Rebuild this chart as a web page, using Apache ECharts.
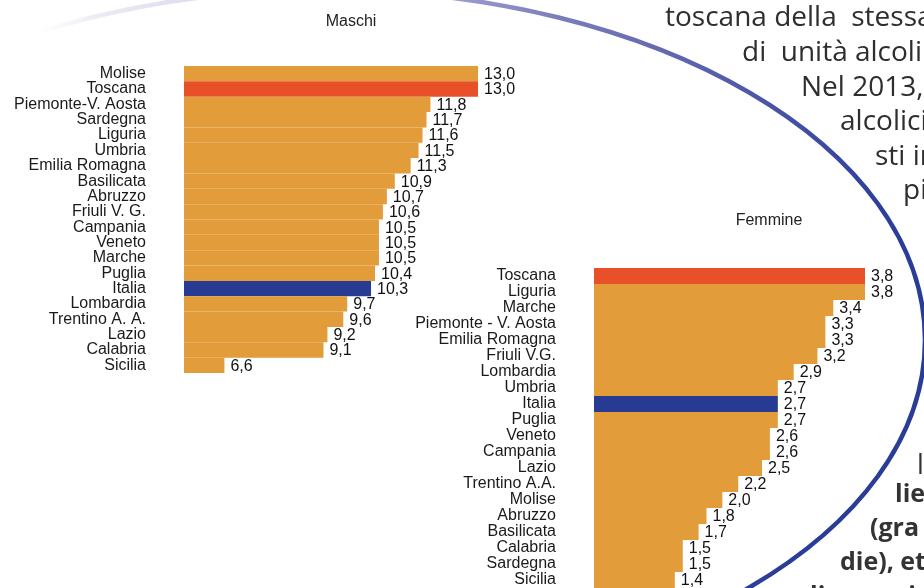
<!DOCTYPE html>
<html>
<head>
<meta charset="utf-8">
<script src="https://cdn.jsdelivr.net/npm/echarts@6/dist/echarts.min.js"></script>
<style>
  html, body { margin: 0; padding: 0; background: #fff; }
  #chart { width: 924px; height: 588px; }
</style>
</head>
<body>
<div id="chart"></div>
<script>
// Maschi
const maleRegions = ['Molise', 'Toscana', 'Piemonte-V. Aosta', 'Sardegna', 'Liguria', 'Umbria',
  'Emilia Romagna', 'Basilicata', 'Abruzzo', 'Friuli V. G.', 'Campania', 'Veneto', 'Marche',
  'Puglia', 'Italia', 'Lombardia', 'Trentino A. A.', 'Lazio', 'Calabria', 'Sicilia'];
const maleValues = [13.0, 13.0, 11.8, 11.7, 11.6, 11.5, 11.3, 10.9, 10.7, 10.6, 10.5, 10.5, 10.5,
  10.4, 10.3, 9.7, 9.6, 9.2, 9.1, 6.6];

// Femmine
const femaleRegions = ['Toscana', 'Liguria', 'Marche', 'Piemonte - V. Aosta', 'Emilia Romagna',
  'Friuli V.G.', 'Lombardia', 'Umbria', 'Italia', 'Puglia', 'Veneto', 'Campania', 'Lazio',
  'Trentino A.A.', 'Molise', 'Abruzzo', 'Basilicata', 'Calabria', 'Sardegna', 'Sicilia'];
const femaleValues = [3.8, 3.8, 3.4, 3.3, 3.3, 3.2, 2.9, 2.7, 2.7, 2.7, 2.6, 2.6, 2.5,
  2.2, 2.0, 1.8, 1.7, 1.5, 1.5, 1.4];

// testo di contorno (tagliato dal bordo destro)
const textLines = ['toscana della  stessa', 'di  unità alcoli', 'Nel 2013,', 'alcolici', 'sti in', 'pi'];
const boldLines = ['lie', '(gra', 'die), et', 'lia e regio'];

const ORANGE = '#E29C3A';
const RED = '#E8502A';
const BLUE = '#283B93';
const LABEL_FONT = '"Liberation Sans", Arial, sans-serif';

function barColor(name) {
  if (name === 'Toscana') return RED;
  if (name === 'Italia') return BLUE;
  return ORANGE;
}

function makeData(names, values) {
  return values.map(function (v, i) {
    return { value: v, itemStyle: { color: barColor(names[i]) } };
  });
}

function fmt(p) {
  return p.value.toFixed(1).replace('.', ',');
}

function yAxisFor(idx, names) {
  return {
    gridIndex: idx,
    type: 'category',
    data: names,
    inverse: true,
    axisLine: { show: false },
    axisTick: { show: false },
    splitLine: { show: false },
    axisLabel: {
      interval: 0,
      margin: 38,
      fontSize: 16,
      lineHeight: 15,
      fontFamily: LABEL_FONT,
      color: '#1a1a1a'
    }
  };
}

const valueLabel = {
  show: true,
  position: 'right',
  distance: 4,
  offset: [0, 1],
  formatter: fmt,
  fontSize: 16,
  lineHeight: 14,
  fontFamily: LABEL_FONT,
  color: '#111',
  backgroundColor: '#fff',
  padding: [0, 2, 0, 2]
};

const ringStroke = new echarts.graphic.LinearGradient(0, 0, 900, 300, [
  { offset: 0, color: 'rgba(255,255,255,0)' },
  { offset: 0.05, color: 'rgba(240,240,248,0)' },
  { offset: 0.1, color: '#ececf6' },
  { offset: 0.2, color: '#dcdcee' },
  { offset: 0.46, color: '#9a9ace' },
  { offset: 0.57, color: '#7a7cba' },
  { offset: 0.8, color: '#4a55a6' },
  { offset: 0.95, color: '#2d3f9a' },
  { offset: 1, color: '#283c98' }
], true);

const textX = [665, 742, 801, 840, 875, 903];
const textY = [18, 53, 88, 122, 157, 191];
const boldX = [895, 870, 840, 810];
const boldY = [495, 529, 563, 597];

const graphics = [
  {
    type: 'ellipse',
    silent: true,
    z: 0,
    shape: { cx: 325, cy: 340, rx: 600, ry: 350 },
    style: { fill: 'none', stroke: ringStroke, lineWidth: 4.5 }
  },
  {
    type: 'text', silent: true,
    style: { text: 'Maschi', x: 351, y: 22, align: 'center', verticalAlign: 'middle',
      font: '16px ' + LABEL_FONT, fill: '#222' }
  },
  {
    type: 'text', silent: true,
    style: { text: 'Femmine', x: 769, y: 221, align: 'center', verticalAlign: 'middle',
      font: '16px ' + LABEL_FONT, fill: '#222' }
  },
  {
    type: 'text', silent: true,
    style: { text: 'l', x: 917, y: 466, verticalAlign: 'middle',
      font: '27px "Open Sans"', fill: '#333' }
  }
];
textLines.forEach(function (t, i) {
  graphics.push({
    type: 'text', silent: true,
    style: { text: t, x: textX[i], y: textY[i], verticalAlign: 'middle',
      font: '28px "Open Sans"', fill: '#2e2e2e' }
  });
});
boldLines.forEach(function (t, i) {
  graphics.push({
    type: 'text', silent: true,
    style: { text: t, x: boldX[i], y: boldY[i], verticalAlign: 'middle',
      font: 'bold 25px "Open Sans"', fill: '#333' }
  });
});

const chart = echarts.init(document.getElementById('chart'), null, { renderer: 'canvas' });

const option = {
  backgroundColor: '#ffffff',
  animation: false,
  grid: [
    { left: 184, top: 66, width: 294, height: 307 },
    { left: 594, top: 268, width: 271, height: 321 }
  ],
  xAxis: [
    { gridIndex: 0, type: 'value', min: 5.58, max: 13.0, show: false },
    { gridIndex: 1, type: 'value', min: 0.38, max: 3.8, show: false }
  ],
  yAxis: [yAxisFor(0, maleRegions), yAxisFor(1, femaleRegions)],
  graphic: graphics,
  series: [
    {
      name: 'Maschi',
      type: 'bar',
      xAxisIndex: 0,
      yAxisIndex: 0,
      barCategoryGap: '0%',
      data: makeData(maleRegions, maleValues),
      label: valueLabel
    },
    {
      name: 'Femmine',
      type: 'bar',
      xAxisIndex: 1,
      yAxisIndex: 1,
      barCategoryGap: '0%',
      data: makeData(femaleRegions, femaleValues),
      label: valueLabel
    }
  ]
};

chart.setOption(option);
</script>
</body>
</html>
